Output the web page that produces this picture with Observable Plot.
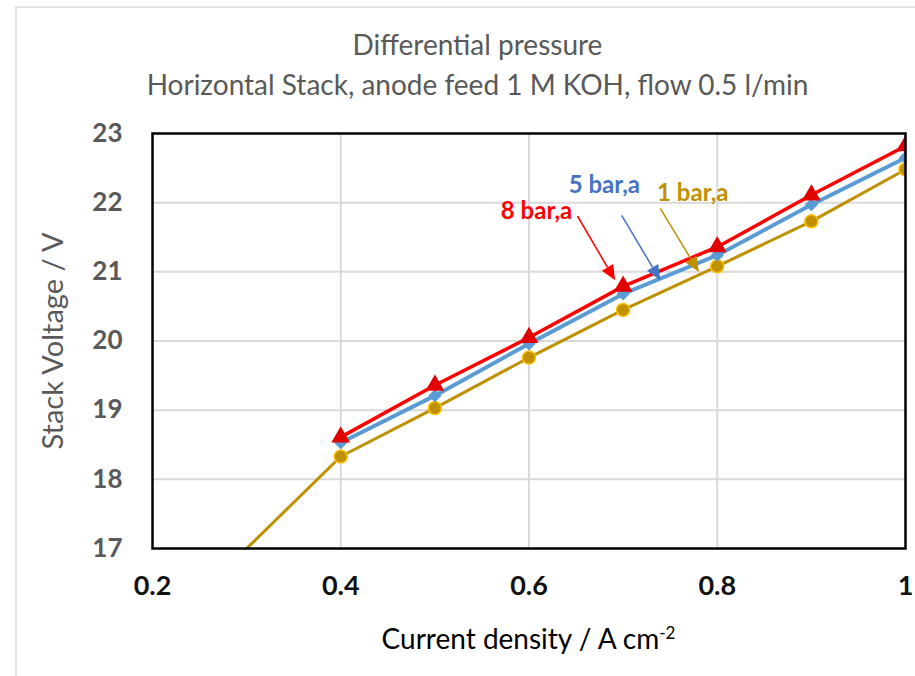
<!DOCTYPE html>
<html><head><meta charset="utf-8">
<script src="https://cdn.jsdelivr.net/npm/d3@7"></script>
<script src="https://cdn.jsdelivr.net/npm/@observablehq/plot@0.6"></script>
<style>
body{margin:0;background:#fff;font-family:Lato,"Open Sans",sans-serif;}
#wrap{position:relative;width:915px;height:676px;overflow:hidden;background:#fff}
#border{position:absolute;left:15px;top:6px;width:920px;height:700px;border-left:2px solid #e3e3e3;border-top:2px solid #e3e3e3;}
#title{position:absolute;left:0;top:24px;width:955px;text-align:center;color:#595959;font-size:28px;line-height:40px;}
#chart{position:absolute;left:0;top:110px;}
#xlabel{position:absolute;left:152px;width:753px;top:615px;text-align:center;color:#000;font-size:28px;line-height:36px;}
#xlabel sup{font-size:17px;}
svg g[aria-label="y-axis tick label"] text{fill:#595959}
svg g[aria-label="x-axis tick label"] text{fill:#111}
</style></head>
<body>
<div id="wrap">
<div id="border"></div>
<div id="title">Differential pressure<br>Horizontal Stack, anode feed 1 M KOH, flow 0.5 l/min</div>
<div id="chart"></div>
<div id="xlabel">Current density / A cm<sup>-2</sup></div>
</div>
<script>
// Data
const currentDensity = [0.4, 0.5, 0.6, 0.7, 0.8, 0.9, 1.0];
const bar8 = [18.61, 19.36, 20.05, 20.79, 21.36, 22.11, 22.82];
const bar5 = [18.53, 19.21, 19.96, 20.68, 21.24, 21.97, 22.65];
const currentDensity1 = [0.2, 0.4, 0.5, 0.6, 0.7, 0.8, 0.9, 1.0];
const bar1 = [15.67, 18.33, 19.03, 19.76, 20.45, 21.08, 21.73, 22.48];
const xTicks = [0.2, 0.4, 0.6, 0.8, 1.0];
const yTicks = [17, 18, 19, 20, 21, 22, 23];

// Annotations
const labelText = ["8 bar,a", "5 bar,a", "1 bar,a"];
const labelColor = ["#FF0000", "#4472C4", "#BF9000"];
const labelX = [0.608, 0.680, 0.774];
const labelY = [21.87, 22.25, 22.13];
const arrowX1 = [0.652, 0.699, 0.740];
const arrowY1 = [21.80, 21.81, 21.91];
const arrowX2 = [0.692, 0.740, 0.781];
const arrowY2 = [20.87, 20.87, 20.99];

const s8 = currentDensity.map((x, i) => ({x, y: bar8[i]}));
const s5 = currentDensity.map((x, i) => ({x, y: bar5[i]}));
const s1 = currentDensity1.map((x, i) => ({x, y: bar1[i]}));
const labels = labelText.map((t, i) => ({t, c: labelColor[i], x: labelX[i], y: labelY[i]}));
const arrows = labelText.map((t, i) => ({c: labelColor[i], x1: arrowX1[i], y1: arrowY1[i], x2: arrowX2[i], y2: arrowY2[i]}));

const arrowMark = (index, scales) => {
  const g = d3.create("svg:g");
  for (const a of arrows) {
    const x1 = scales.x(a.x1), y1 = scales.y(a.y1), x2 = scales.x(a.x2), y2 = scales.y(a.y2);
    const dx = x2 - x1, dy = y2 - y1, len = Math.hypot(dx, dy), ux = dx / len, uy = dy / len;
    const hl = 15, hw = 6.5;
    const bx = x2 - ux * hl, by = y2 - uy * hl;
    g.append("line").attr("x1", x1).attr("y1", y1).attr("x2", bx).attr("y2", by)
      .attr("stroke", a.c).attr("stroke-width", 1.5);
    g.append("path").attr("d", `M${x2},${y2}L${bx - uy * hw},${by + ux * hw}L${bx + uy * hw},${by - ux * hw}Z`)
      .attr("fill", a.c);
  }
  return g.node();
};

const chart = Plot.plot({
  width: 915,
  height: 500,
  marginTop: 23,
  marginBottom: 62,
  marginLeft: 152,
  marginRight: 10,
  style: {fontFamily: "Lato, 'Open Sans', sans-serif", background: "transparent", overflow: "visible"},
  x: {domain: [0.2, 1.0]},
  y: {domain: [17, 23]},
  marks: [
    Plot.gridX([0.4, 0.6, 0.8], {stroke: "#d9d9d9", strokeOpacity: 1, strokeWidth: 2}),
    Plot.gridY([18, 19, 20, 21, 22], {stroke: "#d9d9d9", strokeOpacity: 1, strokeWidth: 2}),
    Plot.axisX(xTicks, {tickSize: 0, tickPadding: 27, fontSize: 27, fontWeight: "bold", tickFormat: d3.format("~g"), label: null}),
    Plot.axisY(yTicks, {tickSize: 0, tickPadding: 30, fontSize: 26, fontWeight: "bold", tickFormat: d3.format("d"), label: null}),
    Plot.text(["Stack Voltage / V"], {frameAnchor: "left", textAnchor: "middle", dx: -99, rotate: -90, fontSize: 29, fill: "#595959"}),
    Plot.line(s1, {x: "x", y: "y", stroke: "#BF9000", strokeWidth: 3, clip: true}),
    Plot.line(s5, {x: "x", y: "y", stroke: "#5B9BD5", strokeWidth: 4, clip: true}),
    Plot.line(s8, {x: "x", y: "y", stroke: "#FF0000", strokeWidth: 3.5, clip: true}),
    Plot.dot(s1, {x: "x", y: "y", r: 6.5, fill: "#BF9000", stroke: "#FFC000", strokeWidth: 1.5, clip: true}),
    Plot.dot(s5, {x: "x", y: "y", r: 5, symbol: "diamond2", fill: "#5B9BD5", stroke: "#5B9BD5", clip: true}),
    Plot.dot(s8, {x: "x", y: "y", r: 6, symbol: "triangle", fill: "#E00000", stroke: "#E00000", clip: true}),
    arrowMark,
    Plot.text(labels, {x: "x", y: "y", text: "t", fill: "c", fontSize: 24, fontWeight: "bold"}),
    Plot.frame({stroke: "#000", strokeWidth: 2.5})
  ]
});
document.getElementById("chart").appendChild(chart);
</script>
</body></html>
